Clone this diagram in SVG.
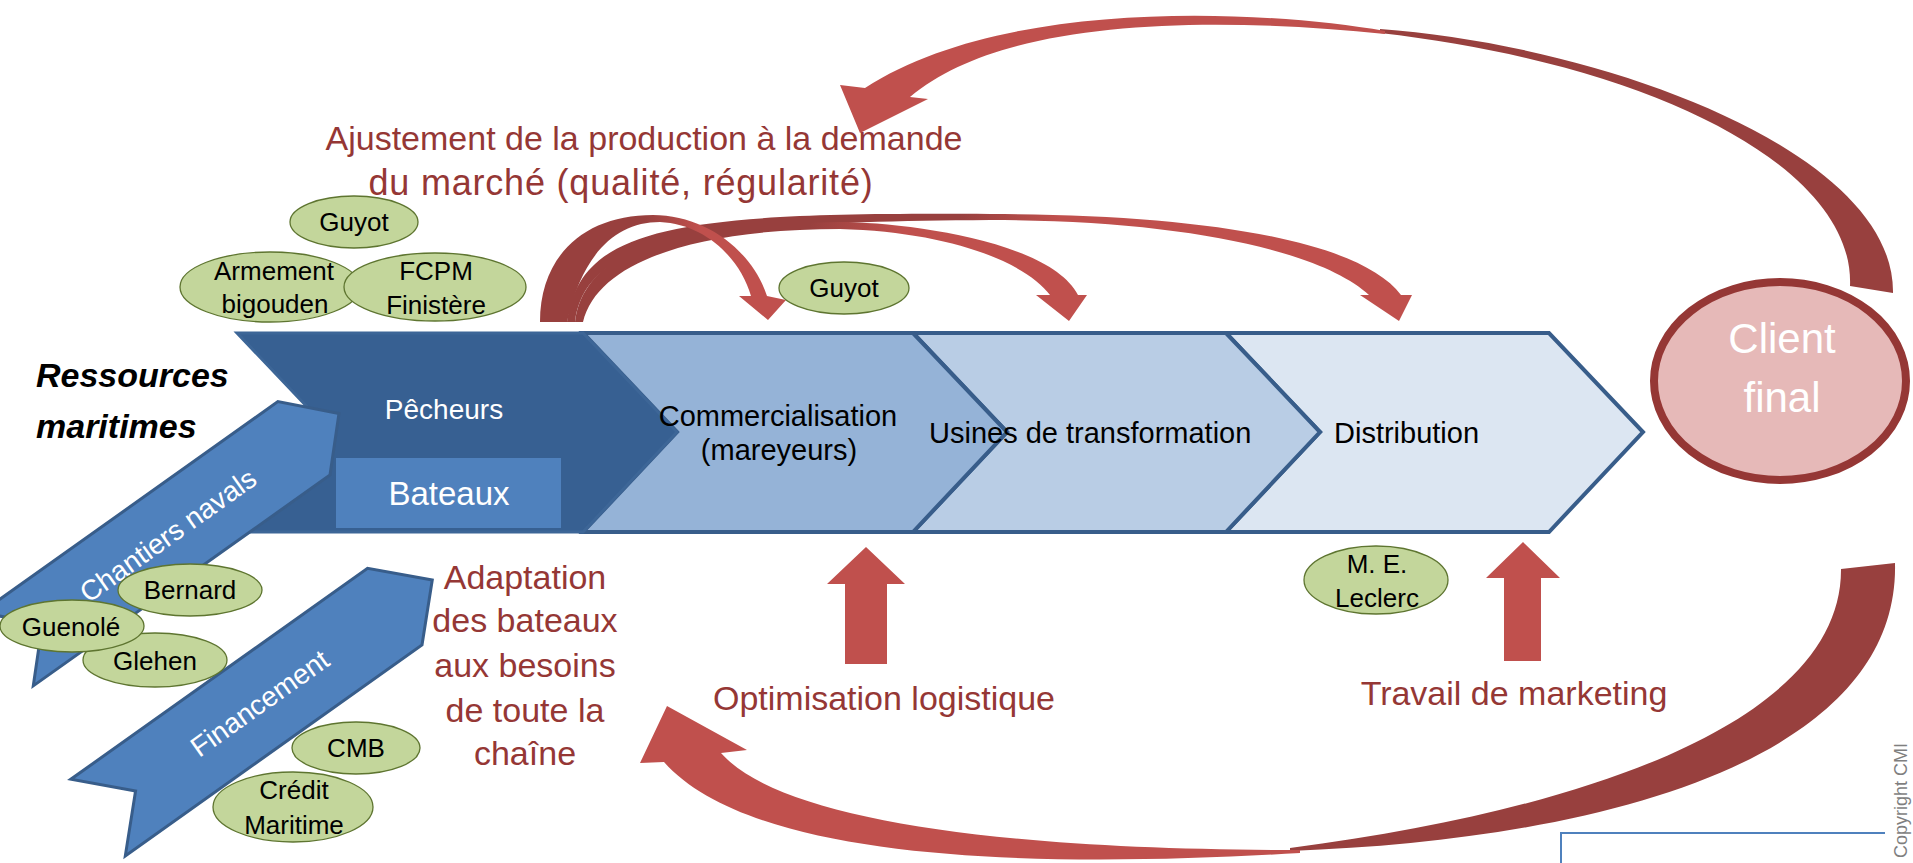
<svg xmlns="http://www.w3.org/2000/svg" width="1913" height="863" viewBox="0 0 1913 863">
<defs>
<style>
.t{font-family:"Liberation Sans",Arial,sans-serif}
.chev{stroke:#385D8A;stroke-width:4;stroke-linejoin:miter}
.gr{fill:#C3D69B;stroke:#5E7530;stroke-width:1.3}
.gt{font-family:"Liberation Sans",Arial,sans-serif;font-size:26px;fill:#000;text-anchor:middle}
.red{font-family:"Liberation Sans",Arial,sans-serif;font-size:34px;fill:#953735;text-anchor:middle}
.blue{fill:#4F81BD;stroke:#385D8A;stroke-width:3;stroke-linejoin:miter}
.bt{font-family:"Liberation Sans",Arial,sans-serif;font-size:28px;fill:#fff;text-anchor:middle}
.bk{font-family:"Liberation Sans",Arial,sans-serif;font-size:29px;fill:#000}
.lr{fill:#C0504D}
.dr{fill:#98403E}
</style>
<linearGradient id="gA" gradientUnits="userSpaceOnUse" x1="645" y1="0" x2="700" y2="0"><stop offset="0" stop-color="#98403E"/><stop offset="1" stop-color="#C0504D"/></linearGradient>
<linearGradient id="gB" gradientUnits="userSpaceOnUse" x1="810" y1="0" x2="900" y2="0"><stop offset="0" stop-color="#98403E"/><stop offset="1" stop-color="#C0504D"/></linearGradient>
<linearGradient id="gC" gradientUnits="userSpaceOnUse" x1="960" y1="0" x2="1060" y2="0"><stop offset="0" stop-color="#98403E"/><stop offset="1" stop-color="#C0504D"/></linearGradient>
</defs>
<rect x="0" y="0" width="1913" height="863" fill="#FFFFFF"/>

<g id="distribution">
<polygon class="chev" fill="#DCE6F2" points="1226,333 1549,333 1643,432 1549,532 1226,532 1320,432"/>
</g>
<g id="usines">
<polygon class="chev" fill="#B9CDE5" points="913,333 1226,333 1320,432 1226,532 913,532 1007,432"/>
</g>
<g id="commercialisation">
<polygon class="chev" fill="#95B3D7" points="583,333 913,333 1007,432 913,532 583,532 677,432"/>
</g>
<g id="pecheurs">
<polygon fill="#376092" stroke="#3D6697" stroke-width="3" points="237,333 583,333 677,432 583,532 237,532 331,432"/>
<text class="bt" x="444" y="419">Pêcheurs</text>
</g>
<g id="bateaux">
<rect x="336" y="458" width="225" height="70" fill="#4F81BD"/>
<text class="bt" x="449" y="505" style="font-size:33px">Bateaux</text>
</g>

<g id="chantiers-navals" transform="translate(330,475) rotate(-35.4)">
<polygon class="blue" points="0,0 43,-45 0,-90 -364,-90 -321,-45 -364,0"/>
<text class="bt" x="-167" y="-35">Chantiers navals</text>
</g>
<g id="financement" transform="translate(422,645) rotate(-35.4)">
<polygon class="blue" points="0,0 46,-47 0,-94 -364,-94 -318,-47 -364,0"/>
<text class="bt" x="-166" y="-37">Financement</text>
</g>

<g id="ressources-maritimes">
<text class="t" x="36" y="387" font-size="34" font-weight="bold" font-style="italic" fill="#000">Ressources</text>
<text class="t" x="36" y="438" font-size="34" font-weight="bold" font-style="italic" fill="#000">maritimes</text>
</g>

<g id="labels">
<text class="red" x="644" y="150">Ajustement de la production à la demande</text>
<text class="red" x="621" y="195" style="font-size:36px" letter-spacing="0.8">du marché (qualité, régularité)</text>
<text class="red" x="525" y="589">Adaptation</text>
<text class="red" x="525" y="632">des bateaux</text>
<text class="red" x="525" y="677">aux besoins</text>
<text class="red" x="525" y="722">de toute la</text>
<text class="red" x="525" y="765">chaîne</text>
<text class="red" x="884" y="710">Optimisation logistique</text>
<text class="red" x="1514" y="705">Travail de marketing</text>
</g>

<g id="connectors">
<polygon class="lr" points="866,547 905,584 887,584 887,664 845,664 845,584 827,584"/>
<polygon class="lr" points="1523,542 1560,578 1541,578 1541,661 1504,661 1504,578 1486,578"/>
<path class="dr" d="M1380,29 C1600,45 1895,150 1893,293 L1850,286 C1855,170 1660,65 1380,33 Z"/>
<path class="lr" d="M1385,31 C1250,8 1000,0 865,88 L840,85 L860,133 L928,99 L910,97 C1000,20 1200,15 1385,34 Z"/>
<path class="dr" d="M1290,851 C1600,840 1900,760 1895,563 L1841,569 C1842,710 1620,805 1290,848 Z"/>
<path class="lr" d="M1300,853 C1080,866 760,870 664,762 L640,763 L667,706 L747,750 L721,753 C780,820 1000,850 1300,850 Z"/>
<path fill="url(#gC)" d="M567,322 C580,225 680,212 990,214 C1200,214 1360,240 1401,295 L1412,295 L1399,321 L1360,295 L1369,295 C1320,250 1180,220 990,220 C700,222 585,238 575,322 Z"/>
<path fill="url(#gB)" d="M575,322 C585,240 700,224 840,222 C900,222 1050,240 1078,295 L1087,295 L1069,321 L1036,295 L1050,295 C1025,262 950,232 840,229 C700,229 598,260 583,322 Z"/>
<path fill="url(#gA)" d="M540,322 C540,255 585,215 653,215 C705,215 752,250 767,296 L786,300 L768,320 L739,296 L751,296 C740,258 705,224 660,222 C615,222 582,255 567,322 Z"/>
</g>

<g id="guyot-1"><ellipse class="gr" cx="354" cy="222" rx="64" ry="26"/><text class="gt" x="354" y="231">Guyot</text></g>
<g id="armement-bigouden"><ellipse class="gr" cx="270" cy="287" rx="90" ry="35"/><text class="gt" x="274" y="280">Armement</text><text class="gt" x="275" y="313">bigouden</text></g>
<g id="fcpm-finistere"><ellipse class="gr" cx="435" cy="287" rx="91" ry="34"/><text class="gt" x="436" y="280">FCPM</text><text class="gt" x="436" y="314">Finistère</text></g>
<g id="guyot-2"><ellipse class="gr" cx="844" cy="288" rx="65" ry="26"/><text class="gt" x="844" y="297">Guyot</text></g>
<g id="me-leclerc"><ellipse class="gr" cx="1376" cy="580" rx="72" ry="34"/><text class="gt" x="1377" y="573">M. E.</text><text class="gt" x="1377" y="607">Leclerc</text></g>
<g id="bernard"><ellipse class="gr" cx="190" cy="590" rx="72" ry="26"/><text class="gt" x="190" y="599">Bernard</text></g>
<g id="glehen"><ellipse class="gr" cx="155" cy="660" rx="72" ry="27"/><text class="gt" x="155" y="670">Glehen</text></g>
<g id="guenole"><ellipse class="gr" cx="72" cy="626" rx="72" ry="26"/><text class="gt" x="71" y="636">Guenolé</text></g>
<g id="cmb"><ellipse class="gr" cx="356" cy="748" rx="64" ry="26"/><text class="gt" x="356" y="757">CMB</text></g>
<g id="credit-maritime"><ellipse class="gr" cx="293" cy="807" rx="80" ry="35"/><text class="gt" x="294" y="799">Crédit</text><text class="gt" x="294" y="834">Maritime</text></g>

<g id="client-final">
<ellipse cx="1780" cy="381" rx="126" ry="99" fill="#E6B9B8" stroke="#953735" stroke-width="8"/>
<text class="t" x="1782" y="353" font-size="42" fill="#FFFFFF" text-anchor="middle">Client</text>
<text class="t" x="1782" y="412" font-size="42" fill="#FFFFFF" text-anchor="middle">final</text>
</g>

<g id="commercialisation-text">
<text class="bk" x="778" y="426" text-anchor="middle">Commercialisation</text>
<text class="bk" x="779" y="460" text-anchor="middle">(mareyeurs)</text>
</g>
<g id="usines-text"><text class="bk" x="929" y="443">Usines de transformation</text></g>
<g id="distribution-text"><text class="bk" x="1334" y="443">Distribution</text></g>

<g id="box">
<path d="M1561,863 L1561,833 L1885,833" fill="none" stroke="#4F81BD" stroke-width="2"/>
</g>
<text class="t" transform="translate(1907,858) rotate(-90)" font-size="18" fill="#7F7F7F">Copyright CMI</text>
</svg>
